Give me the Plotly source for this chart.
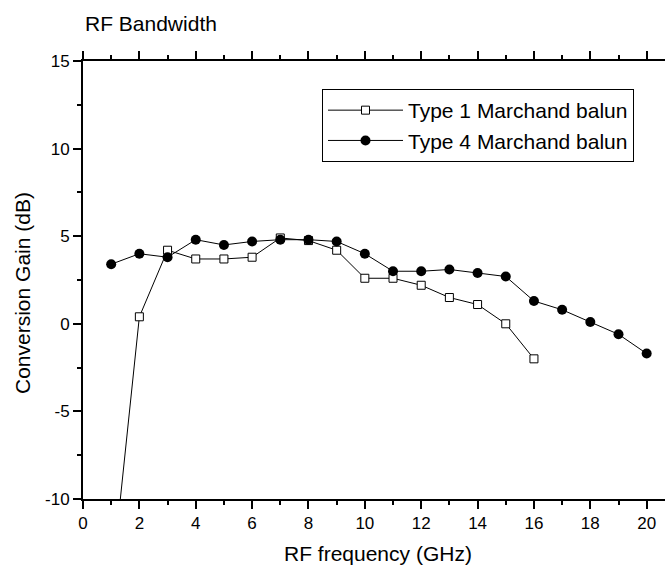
import plotly.graph_objects as go

freq1 = [1, 2, 3, 4, 5, 6, 7, 8, 9, 10, 11, 12, 13, 14, 15, 16]
gain1 = [-15.0, 0.4, 4.2, 3.7, 3.7, 3.8, 4.9, 4.75, 4.2, 2.6, 2.6, 2.2, 1.5, 1.1, 0.0, -2.0]
freq4 = [1, 2, 3, 4, 5, 6, 7, 8, 9, 10, 11, 12, 13, 14, 15, 16, 17, 18, 19, 20]
gain4 = [3.4, 4.0, 3.8, 4.8, 4.5, 4.7, 4.8, 4.8, 4.7, 4.0, 3.0, 3.0, 3.1, 2.9, 2.7, 1.3, 0.8, 0.1, -0.6, -1.7]
names = ["Type 1 Marchand balun", "Type 4 Marchand balun"]
ytick_vals = [-10, -5, 0, 5, 10, 15]
ytick_text = ["-10", "-5", "0", "5", "10", "15"]
xtick_vals = [0, 2, 4, 6, 8, 10, 12, 14, 16, 18, 20]
title_text = "RF Bandwidth"
xtitle = "RF frequency (GHz)"
ytitle = "Conversion Gain (dB)"

FONT = "Liberation Sans, Arial, sans-serif"

fig = go.Figure()
fig.add_trace(go.Scatter(
    x=freq1, y=gain1, name=names[0], mode="lines+markers",
    line=dict(color="black", width=1),
    marker=dict(symbol="square", size=8, color="white", line=dict(color="black", width=1)),
))
fig.add_trace(go.Scatter(
    x=freq4, y=gain4, name=names[1], mode="lines+markers",
    line=dict(color="black", width=1),
    marker=dict(symbol="circle", size=10, color="black", line=dict(color="black", width=0)),
))

L, T, B = 83, 61, 66
W, H = 665, 565
pw = W - L
ph = H - T - B

def px_x(p):
    return (p - L) / pw

def px_y(p):
    return (H - B - p) / ph

XR = [0, 20.65]

fig.update_layout(
    width=W, height=H,
    margin=dict(l=L, r=0, t=T, b=B),
    paper_bgcolor="white", plot_bgcolor="white",
    font=dict(family=FONT, color="black", size=17),
    showlegend=True,
    legend=dict(
        x=px_x(322), y=px_y(89), xanchor="left", yanchor="top",
        bordercolor="black", borderwidth=1, bgcolor="white",
        font=dict(family=FONT, size=21, color="black"),
        itemwidth=75, tracegroupgap=0,
    ),
    xaxis=dict(
        range=XR, tickmode="array", tickvals=xtick_vals,
        showline=True, linecolor="black", linewidth=2, mirror="allticks",
        ticks="outside", ticklen=8, tickwidth=1.5, tickcolor="black",
        minor=dict(dtick=1, tick0=0, ticks="outside", ticklen=4, tickwidth=1.5, tickcolor="black"),
        showgrid=False, zeroline=False,
        tickfont=dict(size=17, family=FONT),
    ),
    yaxis=dict(
        range=[-10, 15], tickmode="array", tickvals=ytick_vals, ticktext=ytick_text,
        showline=True, linecolor="black", linewidth=2,
        ticks="outside", ticklen=8, tickwidth=1.5, tickcolor="black",
        minor=dict(dtick=2.5, tick0=0, ticks="outside", ticklen=4, tickwidth=1.5, tickcolor="black"),
        showgrid=False, zeroline=False,
        tickfont=dict(size=17, family=FONT),
    ),
    annotations=[
        dict(text=title_text, xref="paper", yref="paper", x=px_x(83), y=px_y(23.5),
             xanchor="left", yanchor="middle", showarrow=False,
             font=dict(size=21, family=FONT, color="black")),
        dict(text=xtitle, xref="paper", yref="paper", x=px_x(378), y=px_y(553),
             xanchor="center", yanchor="middle", showarrow=False,
             font=dict(size=21, family=FONT, color="black")),
        dict(text=ytitle, xref="paper", yref="paper", x=px_x(22), y=px_y(293),
             xanchor="center", yanchor="middle", showarrow=False, textangle=-90,
             font=dict(size=21, family=FONT, color="black")),
    ],
)

fig.write_html("out.html")
